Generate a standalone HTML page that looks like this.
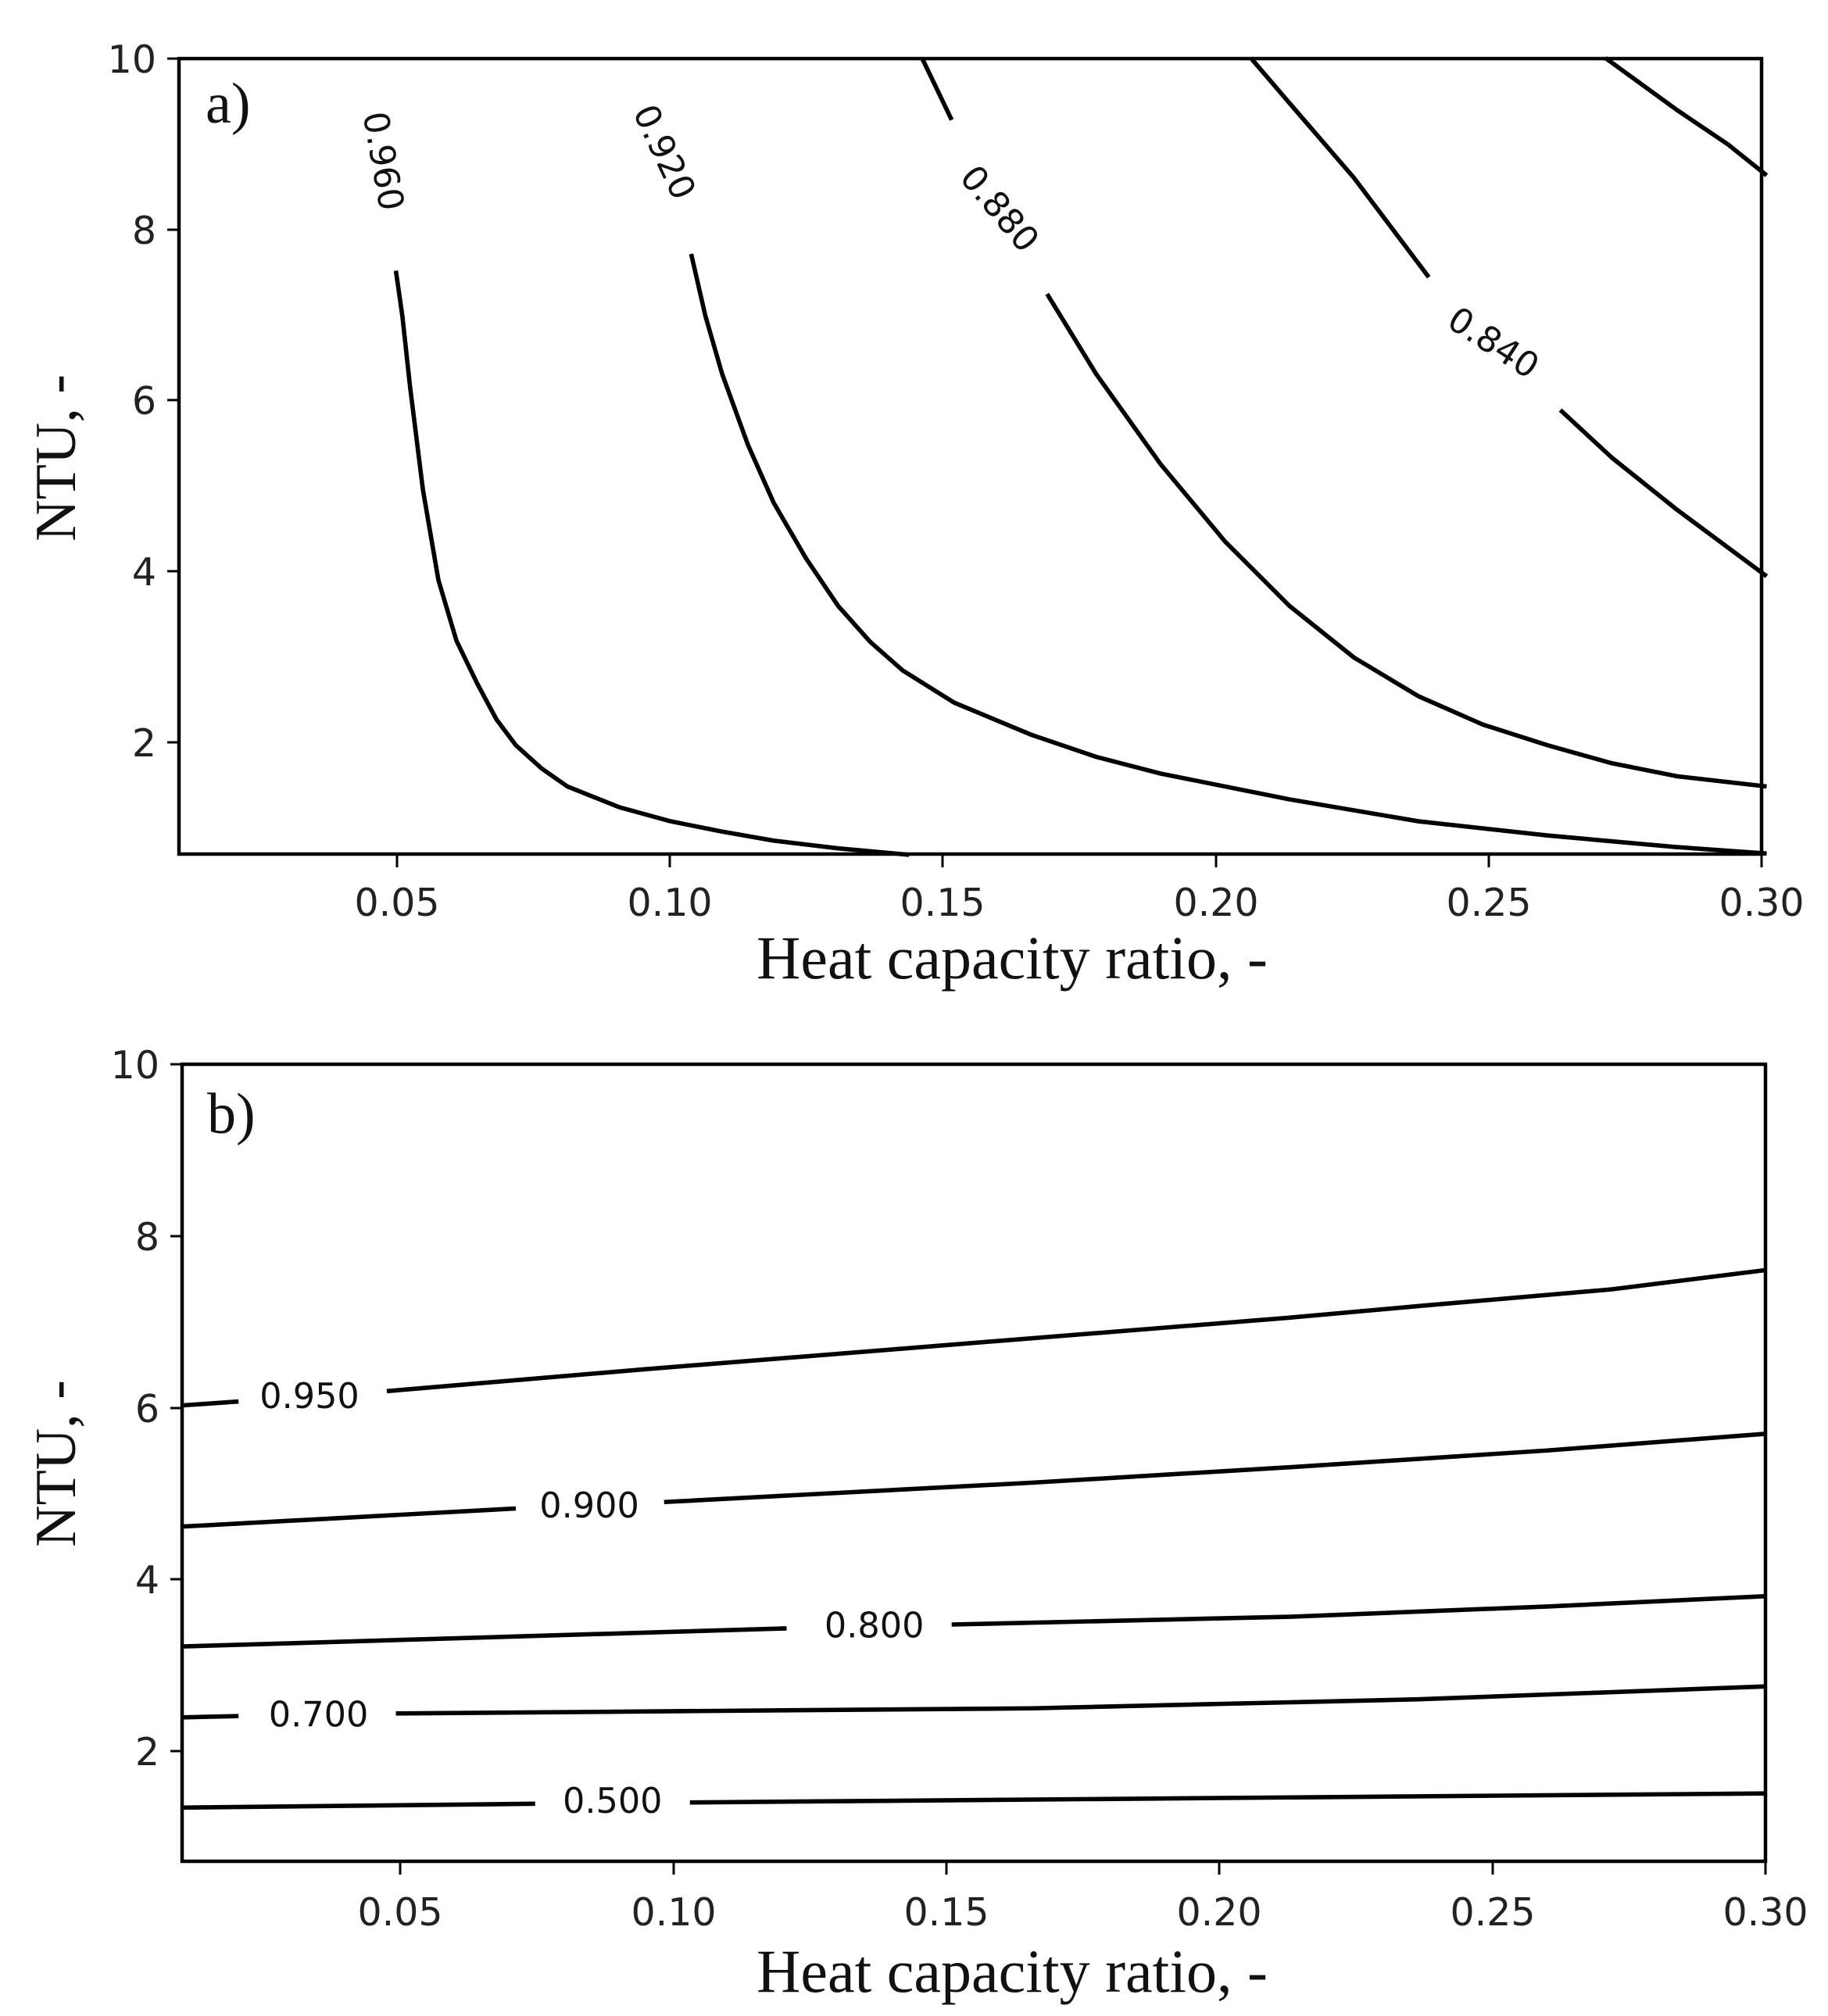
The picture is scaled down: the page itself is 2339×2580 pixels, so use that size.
<!DOCTYPE html>
<html><head><meta charset="utf-8"><style>body{margin:0;background:#fff}svg{display:block}</style></head><body>
<svg width="2339" height="2580" viewBox="0 0 2339 2580" xmlns="http://www.w3.org/2000/svg">
<rect width="2339" height="2580" fill="#fff"/>
<g font-family="DejaVu Sans, Liberation Sans, sans-serif" font-size="49" fill="#222">
<rect x="229" y="75" width="2025" height="1018" fill="none" stroke="#000" stroke-width="4.5"/>
<g stroke="#000" stroke-width="3">
<line x1="214" y1="75" x2="229" y2="75"/><line x1="214" y1="294" x2="229" y2="294"/><line x1="214" y1="512" x2="229" y2="512"/><line x1="214" y1="731" x2="229" y2="731"/><line x1="214" y1="950" x2="229" y2="950"/>
<line x1="508" y1="1093" x2="508" y2="1110"/><line x1="857" y1="1093" x2="857" y2="1110"/><line x1="1206" y1="1093" x2="1206" y2="1110"/><line x1="1556" y1="1093" x2="1556" y2="1110"/><line x1="1905" y1="1093" x2="1905" y2="1110"/><line x1="2254" y1="1093" x2="2254" y2="1110"/>
</g>
<g text-anchor="end"><text x="200" y="93">10</text><text x="200" y="312">8</text><text x="200" y="530">6</text><text x="200" y="749">4</text><text x="200" y="968">2</text></g>
<g text-anchor="middle"><text x="508" y="1172">0.05</text><text x="857" y="1172">0.10</text><text x="1206" y="1172">0.15</text><text x="1556" y="1172">0.20</text><text x="1905" y="1172">0.25</text><text x="2254" y="1172">0.30</text></g>
<rect x="233" y="1362" width="2026" height="1020" fill="none" stroke="#000" stroke-width="4.5"/>
<g stroke="#000" stroke-width="3">
<line x1="218" y1="1362" x2="233" y2="1362"/><line x1="218" y1="1582" x2="233" y2="1582"/><line x1="218" y1="1802" x2="233" y2="1802"/><line x1="218" y1="2021" x2="233" y2="2021"/><line x1="218" y1="2241" x2="233" y2="2241"/>
<line x1="512" y1="2382" x2="512" y2="2399"/><line x1="862" y1="2382" x2="862" y2="2399"/><line x1="1211" y1="2382" x2="1211" y2="2399"/><line x1="1560" y1="2382" x2="1560" y2="2399"/><line x1="1910" y1="2382" x2="1910" y2="2399"/><line x1="2259" y1="2382" x2="2259" y2="2399"/>
</g>
<g text-anchor="end"><text x="204" y="1380">10</text><text x="204" y="1600">8</text><text x="204" y="1820">6</text><text x="204" y="2039">4</text><text x="204" y="2259">2</text></g>
<g text-anchor="middle"><text x="512" y="2464">0.05</text><text x="862" y="2464">0.10</text><text x="1211" y="2464">0.15</text><text x="1560" y="2464">0.20</text><text x="1910" y="2464">0.25</text><text x="2259" y="2464">0.30</text></g>
</g>
<g font-family="Liberation Serif, serif" font-size="78" fill="#111">
<text x="1295" y="1252" text-anchor="middle">Heat capacity ratio, -</text>
<text x="1295" y="2549" text-anchor="middle">Heat capacity ratio, -</text>
<text transform="translate(96,586) rotate(-90)" text-anchor="middle" font-size="74">NTU, -</text>
<text transform="translate(96,1873) rotate(-90)" text-anchor="middle" font-size="74">NTU, -</text>
<text x="263" y="157" font-size="74">a)</text>
<text x="265" y="1450" font-size="74">b)</text>
</g>
<g transform="scale(1.65)" fill="none" stroke="#000" stroke-width="3.4" stroke-linejoin="round">
<polyline points="307,210 312,245 318,300 328,380 340,450 354,497 370,530 385,558 400,578 420,596 440,610 480,626 520,637 560,645 600,652 650,658 705,663"/>
<polyline points="536,197 547,245 560,290 580,345 600,390 625,433 650,470 675,498 700,520 740,545 800,570 850,587 900,600 1000,620 1100,637 1200,648 1300,657 1370,662"/>
<polyline points="715,45 738,93"/>
<polyline points="812,228 850,290 900,360 950,420 1000,470 1050,510 1100,540 1150,562 1200,578 1250,592 1300,602 1370,610"/>
<polyline points="970,45 1000,80 1050,138 1108,215"/>
<polyline points="1210,318 1250,355 1300,395 1370,447"/>
<polyline points="1245,45 1300,85 1340,112 1370,136"/>
<polyline points="142,1090 185,1087"/>
<polyline points="300,1079 500,1062 700,1046 900,1030 1000,1022 1100,1013 1250,1000 1370,985"/>
<polyline points="142,1184 400,1170"/>
<polyline points="515,1165 800,1150 1000,1138 1200,1125 1370,1112"/>
<polyline points="142,1277 610,1263"/>
<polyline points="738,1260 1000,1254 1200,1246 1370,1238"/>
<polyline points="142,1332 185,1331"/>
<polyline points="307,1329 800,1325 1100,1318 1370,1308"/>
<polyline points="142,1402 415,1399"/>
<polyline points="535,1398 1370,1391"/>
</g>
<g transform="scale(1.65)" font-family="DejaVu Sans, Liberation Sans, sans-serif" font-size="27" fill="#111" text-anchor="middle">
<text transform="translate(297,125) rotate(80)" dy="9">0.960</text>
<text transform="translate(515,118) rotate(65)" dy="9">0.920</text>
<text transform="translate(775,162) rotate(50)" dy="9">0.880</text>
<text transform="translate(1158,266) rotate(33)" dy="9">0.840</text>
<text x="240" y="1092">0.950</text>
<text x="457" y="1177">0.900</text>
<text x="678" y="1270">0.800</text>
<text x="247" y="1339">0.700</text>
<text x="475" y="1406">0.500</text>
</g>
</svg>
</body></html>
